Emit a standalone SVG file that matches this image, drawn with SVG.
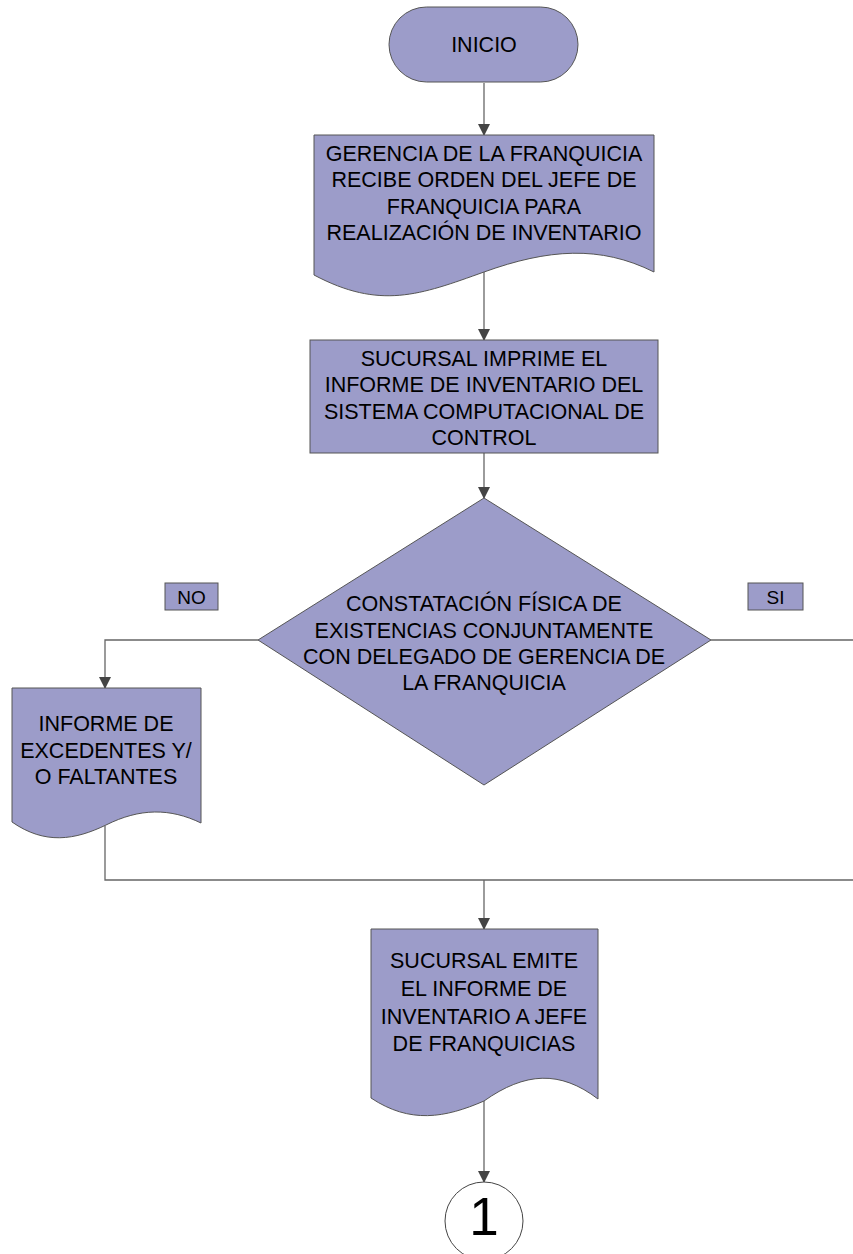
<svg xmlns="http://www.w3.org/2000/svg" width="853" height="1254" viewBox="0 0 853 1254">
<style>
.shape{fill:#9C9CC9;stroke:#555;stroke-width:1}
.t{font-family:"Liberation Sans",Arial,sans-serif;font-size:21.5px;fill:#000;text-anchor:middle}
.c{fill:none;stroke:#666;stroke-width:1.3}
</style>
<defs>
<marker id="ah" markerWidth="12" markerHeight="12" viewBox="0 0 12 12" refX="11" refY="6" orient="auto" markerUnits="userSpaceOnUse">
<path d="M0,0 L12,6 L0,12 Z" fill="#444"/>
</marker>
</defs>
<rect width="853" height="1254" fill="#fff"/>
<g id="connectors">
<path class="c" d="M484,83 V135" marker-end="url(#ah)"/>
<path class="c" d="M484,272 V340" marker-end="url(#ah)"/>
<path class="c" d="M484,453 V498" marker-end="url(#ah)"/>
<path class="c" d="M258,640 H105 V688" marker-end="url(#ah)"/>
<path class="c" d="M711,640 H856 V880"/>
<path class="c" d="M105,826 V880 H856"/>
<path class="c" d="M484,880 V929" marker-end="url(#ah)"/>
<path class="c" d="M484,1101 V1182" marker-end="url(#ah)"/>
</g>
<g id="inicio">
<rect class="shape" x="389" y="7" width="189" height="75" rx="37.5"/>
<text class="t" x="484" y="52">INICIO</text>
</g>
<g id="gerencia">
<path class="shape" d="M314,135 H654 V272 C600,245 548,249 484,272 C420,295 380,310 314,275 Z"/>
<text class="t" x="484" y="161">GERENCIA DE LA FRANQUICIA</text>
<text class="t" x="484" y="187">RECIBE ORDEN DEL JEFE DE</text>
<text class="t" x="484" y="214">FRANQUICIA PARA</text>
<text class="t" x="484" y="240">REALIZACIÓN DE INVENTARIO</text>
</g>
<g id="imprime">
<rect class="shape" x="310" y="340" width="348" height="113"/>
<text class="t" x="484" y="366">SUCURSAL IMPRIME EL</text>
<text class="t" x="484" y="392">INFORME DE INVENTARIO DEL</text>
<text class="t" x="484" y="419">SISTEMA COMPUTACIONAL DE</text>
<text class="t" x="484" y="445">CONTROL</text>
</g>
<g id="constatacion">
<path class="shape" d="M484,498 L711,640 L484,785 L258,640 Z"/>
<text class="t" x="484" y="611">CONSTATACIÓN FÍSICA DE</text>
<text class="t" x="484" y="638">EXISTENCIAS CONJUNTAMENTE</text>
<text class="t" x="484" y="664">CON DELEGADO DE GERENCIA DE</text>
<text class="t" x="484" y="690">LA FRANQUICIA</text>
</g>
<g id="no">
<rect class="shape" x="165" y="583" width="53" height="27"/>
<text class="t" x="191.5" y="604" style="font-size:19px">NO</text>
</g>
<g id="si">
<rect class="shape" x="748" y="583" width="55" height="27"/>
<text class="t" x="775.5" y="604" style="font-size:19px">SI</text>
</g>
<g id="informe-excedentes">
<path class="shape" d="M12,688 H201 V823 C170,808 140,808 106,825 C75,840 45,845 12,822 Z"/>
<text class="t" x="106" y="731">INFORME DE</text>
<text class="t" x="106" y="758">EXCEDENTES Y/</text>
<text class="t" x="106" y="784">O FALTANTES</text>
</g>
<g id="emite">
<path class="shape" d="M371,929 H598 V1099 C560,1070 525,1072 484,1101 C445,1118 410,1124 371,1098 Z"/>
<text class="t" x="484" y="968">SUCURSAL EMITE</text>
<text class="t" x="484" y="996">EL INFORME DE</text>
<text class="t" x="484" y="1024">INVENTARIO A JEFE</text>
<text class="t" x="484" y="1051">DE FRANQUICIAS</text>
</g>
<g id="conector-1">
<circle cx="484" cy="1221" r="39" fill="#fff" stroke="#444" stroke-width="1"/>
<text class="t" x="484" y="1235" style="font-size:53px">1</text>
</g>
</svg>
